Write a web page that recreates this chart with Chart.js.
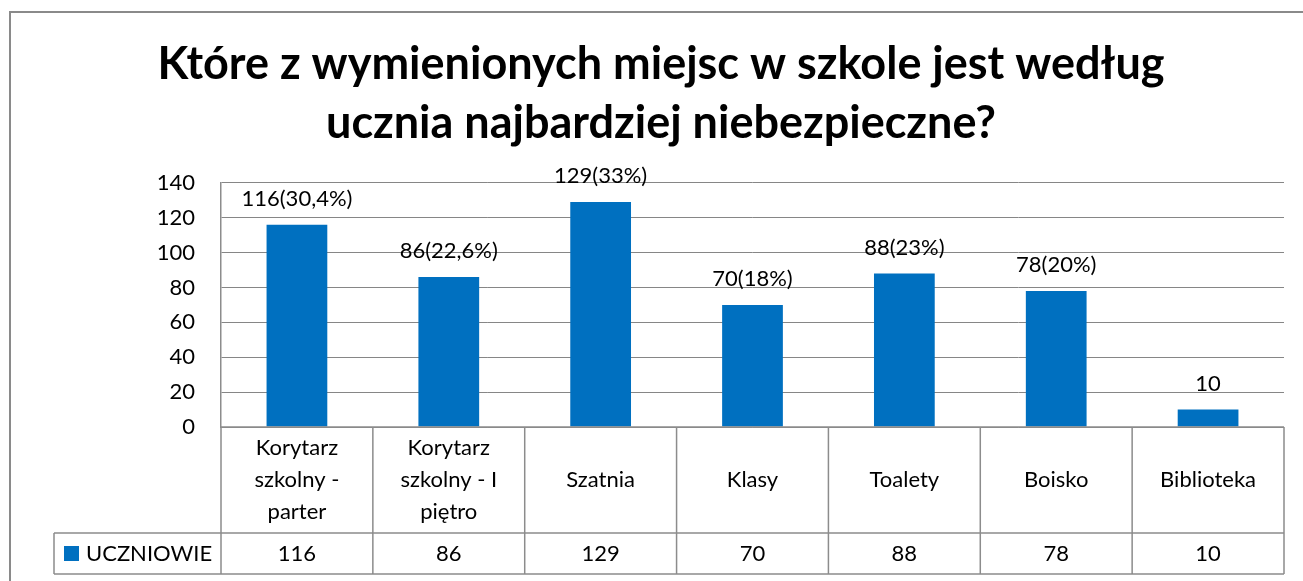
<!DOCTYPE html>
<html lang="pl">
<head>
<meta charset="utf-8">
<title>Najbardziej niebezpieczne miejsca w szkole</title>
<script src="https://cdn.jsdelivr.net/npm/chart.js@4/dist/chart.umd.min.js"></script>
<style>
  html, body { margin: 0; padding: 0; background: #fff; }
  #wrap { width: 1303px; height: 581px; }
</style>
</head>
<body>
<div id="wrap"><canvas id="chart" width="1303" height="581"></canvas></div>
<script>
// chart data
const categories = [
  ['Korytarz', 'szkolny -', 'parter'],
  ['Korytarz', 'szkolny - I', 'piętro'],
  ['Szatnia'],
  ['Klasy'],
  ['Toalety'],
  ['Boisko'],
  ['Biblioteka']
];
const seriesName = 'UCZNIOWIE';
const uczniowie = [116, 86, 129, 70, 88, 78, 10];
const barLabels = ['116(30,4%)', '86(22,6%)', '129(33%)', '70(18%)', '88(23%)', '78(20%)', '10'];
const titleLines = [
  'Które z wymienionych miejsc w szkole jest według',
  'ucznia najbardziej niebezpieczne?'
];

const FONT = 'Lato, Carlito, Calibri, "Open Sans", sans-serif';
const BLUE = '#0070C0';
const LINE = '#8c8c8c';
const ROW1_H = 106;   // category name row
const ROW2_H = 41;    // values row
const LEGEND_LEFT = 54;

// data labels above the bars
const barLabelPlugin = {
  id: 'barLabels',
  afterDatasetsDraw(chart) {
    const ctx = chart.ctx;
    const meta = chart.getDatasetMeta(0);
    ctx.save();
    ctx.font = '22px ' + FONT;
    ctx.fillStyle = '#000';
    ctx.textAlign = 'center';
    ctx.textBaseline = 'middle';
    meta.data.forEach((bar, i) => {
      ctx.fillText(barLabels[i], bar.x, bar.y - 26);
    });
    ctx.restore();
  }
};

// outer frame + data table under the plot
const tablePlugin = {
  id: 'dataTable',
  beforeDraw(chart) {
    const ctx = chart.ctx;
    ctx.save();
    ctx.strokeStyle = '#8a8a8a';
    ctx.lineWidth = 2;
    ctx.beginPath();
    ctx.moveTo(10, chart.height);
    ctx.lineTo(10, 12);
    ctx.lineTo(chart.width, 12);
    ctx.stroke();
    ctx.restore();
  },
  afterDraw(chart) {
    const ctx = chart.ctx;
    const area = chart.chartArea;
    const x = chart.scales.x;
    const n = categories.length;
    const catW = (area.right - area.left) / n;
    const top = area.bottom;
    const mid = top + ROW1_H;
    const bot = mid + ROW2_H;

    ctx.save();
    ctx.strokeStyle = LINE;
    ctx.lineWidth = 1.5;
    ctx.beginPath();
    ctx.moveTo(area.left, top); ctx.lineTo(area.right, top);
    ctx.moveTo(LEGEND_LEFT, mid); ctx.lineTo(area.right, mid);
    ctx.moveTo(LEGEND_LEFT, bot); ctx.lineTo(area.right, bot);
    ctx.moveTo(LEGEND_LEFT, mid); ctx.lineTo(LEGEND_LEFT, bot);
    for (let i = 0; i <= n; i++) {
      const lx = area.left + i * catW;
      ctx.moveTo(lx, top); ctx.lineTo(lx, bot);
    }
    ctx.stroke();

    ctx.fillStyle = '#000';
    ctx.font = '22px ' + FONT;
    ctx.textAlign = 'center';
    ctx.textBaseline = 'middle';
    const lh = 32;
    categories.forEach((lines, i) => {
      const cx = x.getPixelForValue(i);
      const y0 = top + ROW1_H / 2 - (lines.length - 1) * lh / 2;
      lines.forEach((t, j) => ctx.fillText(t, cx, y0 + j * lh));
      ctx.fillText(String(uczniowie[i]), cx, mid + ROW2_H / 2);
    });

    // legend key in the table
    ctx.fillStyle = BLUE;
    ctx.fillRect(64, mid + 13, 15, 15);
    ctx.fillStyle = '#000';
    ctx.textAlign = 'left';
    ctx.fillText(seriesName, 86, mid + ROW2_H / 2);
    ctx.restore();
  }
};

const chart = new Chart(document.getElementById('chart'), {
  type: 'bar',
  data: {
    labels: categories,
    datasets: [{
      label: seriesName,
      data: uczniowie,
      backgroundColor: BLUE,
      barPercentage: 0.8,
      categoryPercentage: 0.5
    }]
  },
  options: {
    responsive: false,
    animation: false,
    layout: { padding: { left: 38, right: 19, top: 0, bottom: 154 } },
    plugins: {
      legend: { display: false },
      tooltip: { enabled: false },
      title: {
        display: true,
        text: titleLines,
        color: '#000',
        font: { family: FONT, size: 45, weight: 'bold', lineHeight: 1.31 },
        padding: { top: 35, bottom: 30 }
      }
    },
    scales: {
      x: { display: false },
      y: {
        min: 0,
        max: 140,
        ticks: { stepSize: 20, color: '#000', padding: 26, font: { family: FONT, size: 22 } },
        grid: { color: '#868686', lineWidth: 1, drawTicks: false },
        border: { display: true, color: LINE, width: 1.5 },
        afterFit(scale) { scale.width = 183; }
      }
    }
  },
  plugins: [barLabelPlugin, tablePlugin]
});
</script>
</body>
</html>
